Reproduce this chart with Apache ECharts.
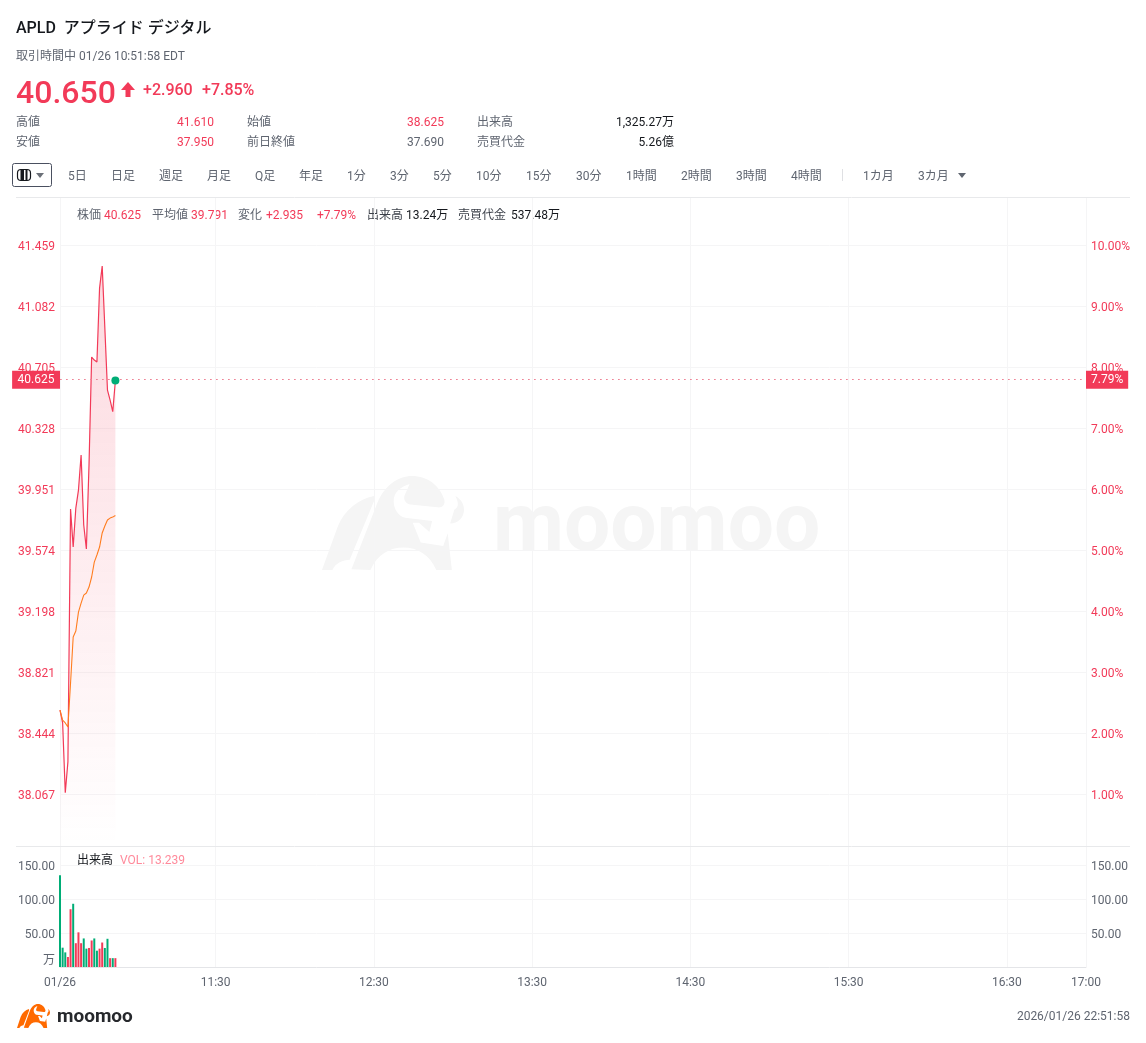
<!DOCTYPE html>
<html lang="ja">
<head>
<meta charset="utf-8">
<title>APLD</title>
<script src="https://cdn.jsdelivr.net/npm/echarts@6/dist/echarts.min.js"></script>
<style>
  html, body { margin: 0; padding: 0; background: #fff; }
  body { font-family: Roboto, "Noto Sans CJK JP", sans-serif; width: 1146px; height: 1043px; position: relative; overflow: hidden; color: #5f6570; font-size: 12px; }
  #chart { position: absolute; left: 0; top: 0; width: 1146px; height: 1043px; }
  #head { position: absolute; left: 0; top: 0; width: 1146px; height: 190px; z-index: 2; }
  #head span, #head div { position: absolute; white-space: pre; line-height: 16px; }
</style>
</head>
<body>
<div id="chart"></div>
<div id="head"></div>
<script>
// ---------- data ----------
const prevClose = 37.69;
const lastPrice = 40.625;
const lastPct = '7.79%';

const priceTicks = [38.067, 38.444, 38.821, 39.198, 39.574, 39.951, 40.328, 40.705, 41.082, 41.459];
const pctTicks = [1, 2, 3, 4, 5, 6, 7, 8, 9, 10];
const volTicks = [50, 100, 150];

const timeTickIndex = [0, 59, 119, 179, 239, 299, 359, 389];
const timeTickLabels = ['01/26', '11:30', '12:30', '13:30', '14:30', '15:30', '16:30', '17:00'];

const price = [38.589, 38.509, 38.078, 38.269, 39.831, 39.596, 39.837, 39.948, 40.165, 39.732, 39.584,
  40.103, 40.770, 40.751, 40.739, 41.196, 41.332, 40.949, 40.566, 40.504, 40.432, 40.625];
const avgPrice = [38.589, 38.527, 38.509, 38.484, 38.756, 39.040, 39.077, 39.194, 39.250, 39.299, 39.312,
  39.349, 39.411, 39.503, 39.547, 39.596, 39.683, 39.726, 39.763, 39.775, 39.781, 39.791];
const volume = [135, 28.4, 21.5, 14.7, 85, 93, 35, 51, 35, 42, 27, 28, 39, 42, 24, 27, 36, 28, 41.5, 13, 13, 13];
const volumeUp = [0, 0, 0, 1, 1, 0, 1, 1, 1, 0, 0, 1, 1, 0, 0, 1, 1, 0, 0, 1, 0, 1];

// ---------- header ----------
const RED = '#f23a58';
const GREEN = '#00ad76';
const GRAY = '#5f6570';
const LINE = '#f5f5f6';
const FONT = 'Roboto, "Noto Sans CJK JP", sans-serif';

const head = document.getElementById('head');
function put(text, x, y, size, color, extra) {
  const el = document.createElement('span');
  el.textContent = text;
  el.style.left = x + 'px';
  el.style.top = (y - 8) + 'px';
  el.style.fontSize = size + 'px';
  el.style.color = color;
  if (extra) Object.assign(el.style, extra);
  head.appendChild(el);
  return el;
}
function putRight(text, rightX, y, color) {
  const el = put(text, 0, y, 12, color);
  el.style.left = 'auto';
  el.style.right = (1146 - rightX) + 'px';
}

put('APLD  アプライド デジタル', 16, 28, 16, '#15181d', { fontWeight: 500 });
put('取引時間中 01/26 10:51:58 EDT', 16, 56, 12, GRAY);
put('40.650', 16, 92, 32, RED, { fontWeight: 500 });
put('+2.960', 143, 90, 16, RED, { fontWeight: 500 });
put('+7.85%', 202, 90, 16, RED, { fontWeight: 500 });

[['高値', 16, 121.5], ['安値', 16, 141.5], ['始値', 247, 121.5], ['前日終値', 247, 141.5], ['出来高', 477, 121.5], ['売買代金', 477, 141.5]]
  .forEach(r => put(r[0], r[1], r[2], 12, GRAY));
putRight('41.610', 214, 121.5, RED);
putRight('37.950', 214, 141.5, RED);
putRight('38.625', 444, 121.5, RED);
putRight('37.690', 444, 141.5, GRAY);
putRight('1,325.27万', 674, 121.5, '#15181d');
putRight('5.26億', 674, 141.5, '#15181d');

const toolbar = [['5日', 68], ['日足', 111], ['週足', 159], ['月足', 207], ['Q足', 255], ['年足', 299], ['1分', 347], ['3分', 390],
  ['5分', 433], ['10分', 476], ['15分', 526], ['30分', 576], ['1時間', 626], ['2時間', 681], ['3時間', 736], ['4時間', 791],
  ['1カ月', 863], ['3カ月', 918]];
toolbar.forEach(t => put(t[0], t[1], 175.5, 12, GRAY));

// arrow, chart type button and little carets
const icons = document.createElement('div');
icons.style.cssText = 'left:0;top:0;width:1146px;height:190px';
icons.innerHTML = `<svg width="1146" height="190" style="position:absolute;left:0;top:0">
  <path d="M128 82 L135 90 H130.5 V97 H125.5 V90 H121 Z" fill="${RED}"/>
  <rect x="12.5" y="163.5" width="39" height="23" rx="2" fill="#fff" stroke="#4a5060"/>
  <rect x="17.5" y="169.5" width="13" height="11" rx="3.5" fill="#fff" stroke="#15181d" stroke-width="1.2"/>
  <rect x="20.5" y="169.5" width="3.5" height="11" fill="#15181d"/>
  <rect x="25.5" y="169.5" width="2" height="11" fill="#15181d"/>
  <path d="M36 173 H44 L40 178 Z" fill="#6b7078"/>
  <path d="M842.5 169 V181" stroke="#dfe0e3"/>
  <path d="M958 173 H966 L962 178 Z" fill="#5f6570"/>
</svg>`;
head.appendChild(icons);

// ---------- chart ----------
const GRID_L = 60, GRID_R = 60, MAIN_TOP = 198, MAIN_H = 648, VOL_TOP = 847, VOL_H = 120;
const priceMin = 37.749, priceMax = 41.7525;
const pct = v => (v / prevClose - 1) * 100;

const xCats = Array.from({ length: 390 }, (_, i) => {
  const k = timeTickIndex.indexOf(i);
  return k >= 0 ? timeTickLabels[k] : String(i);
});
const isTick = i => timeTickIndex.includes(i);

// logo outline, drawn once and placed with a scale
const BULL = 'M150 318 L225 125 C245 75 285 47 325 47 C370 47 405 75 418 115 C422 130 412 140 398 138 L320 130 C305 128 298 112 305 100 L318 70 C290 78 272 95 272 120 C272 145 288 165 305 168 L383 178 L375 210 L345 183 L327 183 L350 240 L415 250 L428 213 L440 320 L395 320 C375 275 340 255 300 255 C260 255 225 275 205 320 Z ' +
  'M65 320 L110 195 C130 145 170 115 215 105 L215 120 L145 290 C125 292 105 298 95 320 Z ' +
  'M450 105 C468 115 475 130 475 145 C475 168 458 185 435 185 L447 145 C458 138 462 128 450 105 Z';
echarts.graphic.registerShape('bull', echarts.graphic.extendPath(BULL, {}));

function bullAt(x, y, w, h, fill, z) {
  const sx = w / 410, sy = h / 273;
  return { type: 'bull', z, silent: true, x: x - 65 * sx, y: y - 47 * sy, scaleX: sx, scaleY: sy, style: { fill } };
}

const infoTexts = [
  ['株価', 77, GRAY], ['40.625', 104, RED], ['平均値', 152, GRAY], ['39.791', 191, RED], ['変化', 238, GRAY], ['+2.935', 266, RED],
  ['+7.79%', 317, RED], ['出来高', 367, '#3a3f48'], ['13.24万', 406, '#15181d'], ['売買代金', 458, '#3a3f48'], ['537.48万', 511, '#15181d'],
];

const graphics = [
  bullAt(322, 476, 142, 94, '#f5f5f5', -1),
  { type: 'text', z: -1, silent: true, x: 493, y: 529, style: { text: 'moomoo', font: '700 82px Roboto, sans-serif', fill: '#f5f5f5', textVerticalAlign: 'middle' } },
  bullAt(17, 1004, 33, 24, '#ff6a00', 1),
  { type: 'text', silent: true, x: 57, y: 1017, style: { text: 'moomoo', font: '700 19px Roboto, sans-serif', fill: '#26282c', textVerticalAlign: 'middle' } },
  { type: 'text', silent: true, x: 1130, y: 1017, style: { text: '2026/01/26 22:51:58', font: '12px ' + FONT, fill: GRAY, textAlign: 'right', textVerticalAlign: 'middle' } },
  { type: 'text', silent: true, x: 49, y: 961, style: { text: '万', font: '12px ' + FONT, fill: GRAY, textAlign: 'center', textVerticalAlign: 'middle' } },
  { type: 'text', silent: true, x: 77, y: 861, style: { text: '出来高', font: '12px ' + FONT, fill: '#15181d', textVerticalAlign: 'middle' } },
  { type: 'text', silent: true, x: 120, y: 861, style: { text: 'VOL: 13.239', font: '12px ' + FONT, fill: '#ff8a9b', textVerticalAlign: 'middle' } },
  { type: 'line', silent: true, shape: { x1: 16, y1: 197.5, x2: 1130, y2: 197.5 }, style: { stroke: '#e8e9eb', lineWidth: 1 } },
  { type: 'line', silent: true, shape: { x1: 16, y1: 846.5, x2: 1130, y2: 846.5 }, style: { stroke: '#e8e9eb', lineWidth: 1 } },
];
infoTexts.forEach(t => graphics.push({
  type: 'text', silent: true, x: t[1], y: 216,
  style: { text: t[0], font: '12px ' + FONT, fill: t[2], textVerticalAlign: 'middle' },
}));

const chart = echarts.init(document.getElementById('chart'), null, { renderer: 'canvas' });

const hiddenX = {
  type: 'category', data: xCats, boundaryGap: false,
  axisLine: { show: false }, axisTick: { show: false }, axisLabel: { show: false },
  splitLine: { show: true, interval: isTick, lineStyle: { color: LINE, width: 1 } },
};

const tagLabel = (text, position, padX) => ({
  show: true, position, formatter: text, distance: 0,
  color: '#fff', fontSize: 12, fontFamily: FONT,
  backgroundColor: RED, padding: [4, padX, 2, padX],
});

// axis labels sit a little under their grid line
const lowered = (color, drop, fmt) => ({
  color, fontSize: 12, margin: 5,
  formatter: v => '{t|' + fmt(v) + '}',
  rich: { t: { color, fontSize: 12, fontFamily: FONT, padding: [drop, 0, 0, 0] } },
});

chart.setOption({
  animation: false,
  backgroundColor: 'transparent',
  textStyle: { fontFamily: FONT },
  graphic: graphics,
  grid: [
    { left: GRID_L, right: GRID_R, top: MAIN_TOP, height: MAIN_H },
    { left: GRID_L, right: GRID_R, top: VOL_TOP, height: VOL_H },
  ],
  xAxis: [
    { ...hiddenX, gridIndex: 0 },
    {
      ...hiddenX, gridIndex: 1,
      axisLine: { show: true, lineStyle: { color: '#e4e5e8' } },
      axisLabel: {
        show: true, interval: isTick, showMinLabel: true, showMaxLabel: true,
        color: GRAY, fontSize: 12, margin: 10,
      },
    },
  ],
  yAxis: [
    {
      type: 'value', gridIndex: 0, min: priceMin, max: priceMax, position: 'left',
      axisLine: { show: false }, axisTick: { show: false, customValues: priceTicks },
      axisLabel: { customValues: priceTicks, ...lowered(RED, 3, v => v.toFixed(3)) },
      splitLine: { show: true, lineStyle: { color: LINE } },
    },
    {
      type: 'value', gridIndex: 0, min: pct(priceMin), max: pct(priceMax), position: 'right',
      axisLine: { show: false }, axisTick: { show: false }, splitLine: { show: false },
      axisLabel: { customValues: pctTicks, ...lowered(RED, 3, v => v.toFixed(2) + '%') },
    },
    {
      type: 'value', gridIndex: 1, min: 0, max: 176.5, position: 'left',
      axisLine: { show: false }, axisTick: { show: false, customValues: volTicks },
      axisLabel: { customValues: volTicks, ...lowered(GRAY, 4, v => v.toFixed(2)) },
      splitLine: { show: true, lineStyle: { color: LINE } },
    },
    {
      type: 'value', gridIndex: 1, min: 0, max: 176.5, position: 'right',
      axisLine: { show: false }, axisTick: { show: false }, splitLine: { show: false },
      axisLabel: { customValues: volTicks, ...lowered(GRAY, 4, v => v.toFixed(2)) },
    },
  ],
  series: [
    {
      name: '株価', type: 'line', xAxisIndex: 0, yAxisIndex: 0, data: price,
      showSymbol: false, symbol: 'none', smooth: false, z: 3,
      lineStyle: { color: RED, width: 1.2 },
      itemStyle: { color: RED },
      areaStyle: {
        origin: 'start',
        color: new echarts.graphic.LinearGradient(0, 0, 0, 1, [
          { offset: 0, color: 'rgba(242,58,88,0.28)' },
          { offset: 1, color: 'rgba(242,58,88,0)' },
        ]),
      },
      markLine: {
        silent: true, symbol: 'none', animation: false, z: 5,
        lineStyle: { color: '#ee8497', type: [1.5, 4.5], width: 1 },
        data: [
          { yAxis: lastPrice, label: tagLabel('40.625', 'start', 5.5) },
          { yAxis: lastPrice, label: tagLabel(lastPct, 'end', 5) },
        ],
      },
      markPoint: {
        silent: true, symbol: 'circle', symbolSize: 8, label: { show: false },
        itemStyle: { color: GREEN },
        data: [{ coord: [price.length - 1, lastPrice] }],
      },
    },
    {
      name: '平均値', type: 'line', xAxisIndex: 0, yAxisIndex: 0, data: avgPrice,
      showSymbol: false, symbol: 'none', smooth: false, z: 4,
      lineStyle: { color: '#ff7d1f', width: 1.1 },
    },
    {
      name: '出来高', type: 'bar', xAxisIndex: 1, yAxisIndex: 2, barWidth: 2, clip: true,
      data: volume.map((v, i) => ({ value: v, itemStyle: { color: volumeUp[i] ? RED : GREEN } })),
    },
  ],
});
</script>
</body>
</html>
